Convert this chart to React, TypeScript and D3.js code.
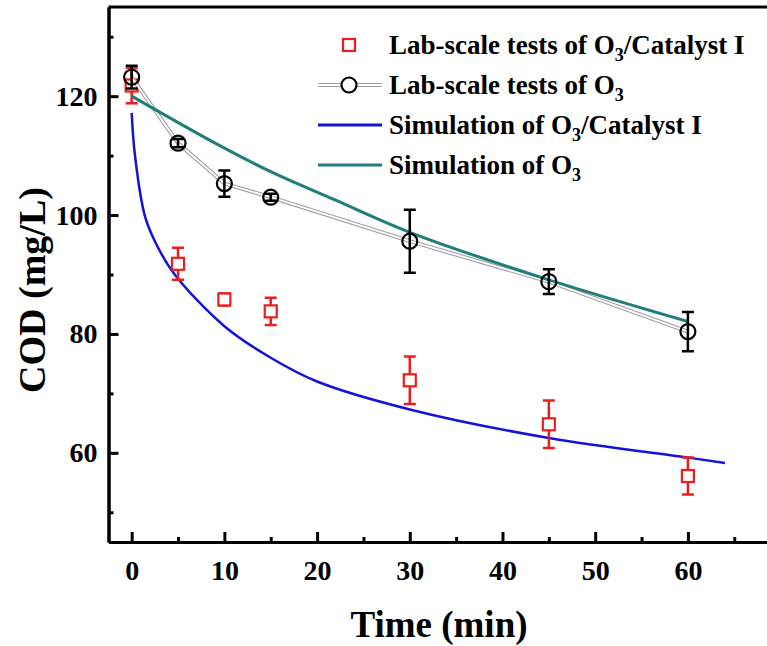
import React, { useEffect, useRef } from "react";
import * as d3 from "d3";

const times = [0, 5, 10, 15, 30, 45, 60];
const catMean = [121.8, 91.8, 85.8, 83.8, 72.2, 64.8, 56.1];
const catErr = [3.0, 2.7, 1.0, 2.3, 4.0, 4.0, 3.1];
const o3Mean = [123.2, 112.1, 105.3, 103.0, 95.6, 88.8, 80.4];
const o3Err = [1.9, 0.7, 2.2, 0.6, 5.3, 2.1, 3.3];

// simulation curves
const simCatTime = [0, 0.35, 1.4, 2.5, 4.5, 10, 15, 20, 30, 45, 60, 64];
const simCatVal = [117.2, 110.1, 100, 95.6, 90.3, 81.3, 76, 72, 67.3, 62.5, 59.2, 58.3];
const simO3Time = [0, 9, 15, 22, 30, 45, 60];
const simO3Val = [120, 112.1, 107.3, 102.5, 97.1, 89.1, 82.1];

const xTicks = [0, 10, 20, 30, 40, 50, 60];
const xMinor = [5, 15, 25, 35, 45, 55, 65];
const yTicks = [60, 80, 100, 120];
const yMinor = [50, 70, 90, 110, 130];

const RED = "#ee1c1c";
const BLUE = "#1414d6";
const TEAL = "#1f7f78";
const FONT = "'Liberation Serif', 'Times New Roman', serif";

const App = () => {
  const ref = useRef<SVGSVGElement>(null);
  const width = 767;
  const height = 646;

  useEffect(() => {
    const svg = d3.select(ref.current);
    svg.selectAll("*").remove();

    const x = d3.scaleLinear().domain([-2.5, 70]).range([108.5, 780.6]);
    const y = d3.scaleLinear().domain([45, 135]).range([542, 7]);

    // frame (top line spans the whole width, right side is cropped)
    svg
      .append("line")
      .attr("x1", x(-2.5))
      .attr("x2", width + 20)
      .attr("y1", y(135))
      .attr("y2", y(135))
      .attr("stroke", "#000")
      .attr("stroke-width", 3);

    const xAxis = svg.append("g").attr("transform", `translate(0,${y(45)})`);
    xAxis.call(
      d3.axisBottom(x).tickValues(xTicks).tickSize(-10).tickPadding(18).tickSizeOuter(0)
    );
    xAxis
      .append("g")
      .call(d3.axisBottom(x).tickValues(xMinor).tickSize(-5).tickFormat(() => "").tickSizeOuter(0));

    const yAxis = svg.append("g").attr("transform", `translate(${x(-2.5)},0)`);
    yAxis.call(d3.axisLeft(y).tickValues(yTicks).tickSize(-10).tickPadding(11).tickSizeOuter(0));
    yAxis
      .append("g")
      .call(d3.axisLeft(y).tickValues(yMinor).tickSize(-5).tickFormat(() => "").tickSizeOuter(0));

    svg.selectAll(".domain").attr("stroke-width", 3).attr("stroke", "#000");
    svg.selectAll(".tick line").attr("stroke-width", 3).attr("stroke", "#000");
    svg
      .selectAll(".tick text")
      .attr("font-family", FONT)
      .attr("font-weight", "bold")
      .attr("font-size", 28)
      .attr("fill", "#000");

    // axis titles
    svg
      .append("text")
      .attr("x", 439)
      .attr("y", 637)
      .attr("text-anchor", "middle")
      .attr("font-family", FONT)
      .attr("font-weight", "bold")
      .attr("font-size", 37)
      .text("Time (min)");
    svg
      .append("text")
      .attr("transform", `translate(45,290) rotate(-90)`)
      .attr("text-anchor", "middle")
      .attr("font-family", FONT)
      .attr("font-weight", "bold")
      .attr("font-size", 38)
      .text("COD (mg/L)");

    // simulation lines
    const simLine = d3
      .line<[number, number]>()
      .x((d) => x(d[0]))
      .y((d) => y(d[1]))
      .curve(d3.curveCatmullRom.alpha(0.5));

    svg
      .append("path")
      .datum(simCatTime.map((t, i) => [t, simCatVal[i]] as [number, number]))
      .attr("d", simLine)
      .attr("fill", "none")
      .attr("stroke", BLUE)
      .attr("stroke-width", 2.5);

    // catalyst points
    const cat = times.map((t, i) => ({ t, v: catMean[i], e: catErr[i] }));
    const catG = svg.append("g");
    catG
      .selectAll(".ebar")
      .data(cat)
      .enter()
      .append("path")
      .attr("d", (d) => {
        const cx = x(d.t);
        const y1 = y(d.v + d.e);
        const y2 = y(d.v - d.e);
        return `M${cx - 6},${y1}H${cx + 6}M${cx},${y1}V${y2}M${cx - 6},${y2}H${cx + 6}`;
      })
      .attr("stroke", RED)
      .attr("stroke-width", 2.5)
      .attr("fill", "none");
    catG
      .selectAll("rect")
      .data(cat)
      .enter()
      .append("rect")
      .attr("x", (d) => x(d.t) - 6)
      .attr("y", (d) => y(d.v) - 6)
      .attr("width", 12)
      .attr("height", 12)
      .attr("fill", "#fff")
      .attr("stroke", RED)
      .attr("stroke-width", 2.2);

    // O3 points with double gray connecting line
    const o3 = times.map((t, i) => ({ t, v: o3Mean[i], e: o3Err[i] }));
    const ptLine = d3
      .line<{ t: number; v: number }>()
      .x((d) => x(d.t))
      .y((d) => y(d.v));
    svg
      .append("path")
      .datum(o3)
      .attr("d", ptLine)
      .attr("fill", "none")
      .attr("stroke", "#a0a0a0")
      .attr("stroke-width", 4);
    svg
      .append("path")
      .datum(o3)
      .attr("d", ptLine)
      .attr("fill", "none")
      .attr("stroke", "#fff")
      .attr("stroke-width", 1.8);

    svg
      .append("path")
      .datum(simO3Time.map((t, i) => [t, simO3Val[i]] as [number, number]))
      .attr("d", simLine)
      .attr("fill", "none")
      .attr("stroke", TEAL)
      .attr("stroke-width", 3);

    const o3G = svg.append("g");
    o3G
      .selectAll(".ebar")
      .data(o3)
      .enter()
      .append("path")
      .attr("d", (d) => {
        const cx = x(d.t);
        const y1 = y(d.v + d.e);
        const y2 = y(d.v - d.e);
        return `M${cx - 6},${y1}H${cx + 6}M${cx},${y1}V${y2}M${cx - 6},${y2}H${cx + 6}`;
      })
      .attr("stroke", "#000")
      .attr("stroke-width", 2.5)
      .attr("fill", "none");
    o3G
      .selectAll("circle")
      .data(o3)
      .enter()
      .append("circle")
      .attr("cx", (d) => x(d.t))
      .attr("cy", (d) => y(d.v))
      .attr("r", 7.5)
      .attr("fill", "none")
      .attr("stroke", "#000")
      .attr("stroke-width", 2.2);

    // legend
    const legend = svg.append("g");
    const rows = [
      { pre: "Lab-scale tests of O", post: "/Catalyst I", kind: "square" },
      { pre: "Lab-scale tests of O", post: "", kind: "circle" },
      { pre: "Simulation of O", post: "/Catalyst I", kind: "blue" },
      { pre: "Simulation of O", post: "", kind: "teal" },
    ];
    rows.forEach((r, i) => {
      const cy = 45 + i * 40;
      if (r.kind === "square") {
        legend
          .append("rect")
          .attr("x", 343)
          .attr("y", cy - 6)
          .attr("width", 12)
          .attr("height", 12)
          .attr("fill", "#fff")
          .attr("stroke", RED)
          .attr("stroke-width", 2.2);
      } else if (r.kind === "circle") {
        legend
          .append("line")
          .attr("x1", 318)
          .attr("x2", 382)
          .attr("y1", cy)
          .attr("y2", cy)
          .attr("stroke", "#a0a0a0")
          .attr("stroke-width", 4);
        legend
          .append("line")
          .attr("x1", 318)
          .attr("x2", 382)
          .attr("y1", cy)
          .attr("y2", cy)
          .attr("stroke", "#fff")
          .attr("stroke-width", 1.8);
        legend
          .append("circle")
          .attr("cx", 349)
          .attr("cy", cy)
          .attr("r", 7.5)
          .attr("fill", "#fff")
          .attr("stroke", "#000")
          .attr("stroke-width", 2.2);
      } else {
        legend
          .append("line")
          .attr("x1", 318)
          .attr("x2", 382)
          .attr("y1", cy)
          .attr("y2", cy)
          .attr("stroke", r.kind === "blue" ? BLUE : TEAL)
          .attr("stroke-width", 3);
      }
      const t = legend
        .append("text")
        .attr("x", 389)
        .attr("y", cy + 9)
        .attr("font-family", FONT)
        .attr("font-weight", "bold")
        .attr("font-size", 27)
        .text(r.pre);
      t.append("tspan").attr("font-size", 18).attr("dy", 7).text("3");
      if (r.post) t.append("tspan").attr("dy", -7).text(r.post);
    });
  }, []);

  return (
    <svg
      ref={ref}
      width={width}
      height={height}
      style={{ position: "absolute", left: 0, top: 0, background: "#fff" }}
    ></svg>
  );
};

export default App;
